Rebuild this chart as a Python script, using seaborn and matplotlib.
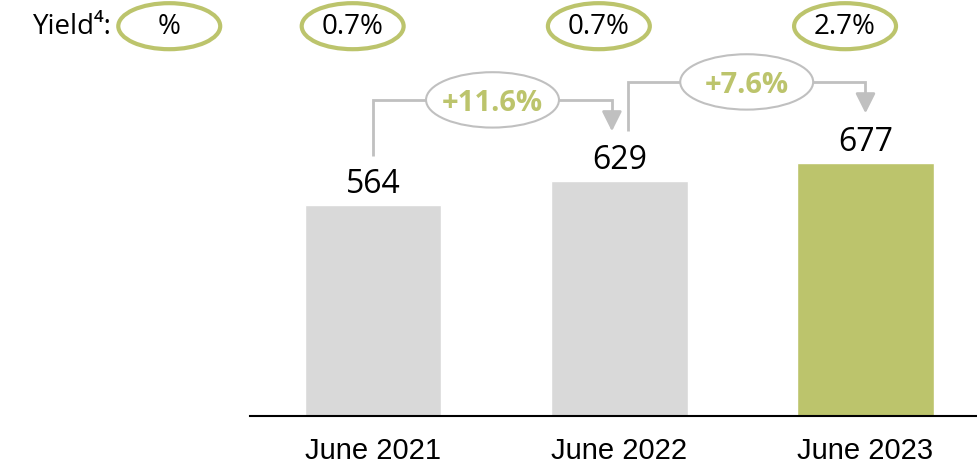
import matplotlib
matplotlib.use("Agg")
import matplotlib.pyplot as plt
from matplotlib import font_manager
from matplotlib.patches import Ellipse
import seaborn as sns
import pandas as pd

# Data
periods = ["June 2021", "June 2022", "June 2023"]
values = [564, 629, 677]
yields = ["0.7%", "0.7%", "2.7%"]
growth = ["+11.6%", "+7.6%"]
bar_colors = ["#d9d9d9", "#d9d9d9", "#bcc46c"]

GREEN = "#bcc46c"
GREY_LINE = "#c0c0c0"
PX = 0.3741  # pixels per data unit on the value axis

sns.set_theme(style="white")
plt.rcParams["font.family"] = ["Open Sans", "DejaVu Sans"]

available = {f.name for f in font_manager.fontManager.ttflist}
tick_family = "Liberation Sans Narrow" if "Liberation Sans Narrow" in available else "Liberation Sans"
tick_size = 25 if tick_family == "Liberation Sans Narrow" else 21

df = pd.DataFrame({"period": periods, "value": values})

fig = plt.figure(figsize=(9.78, 4.63), dpi=100)
ax = fig.add_axes([250 / 978, 47 / 463, 728 / 978, 416 / 463])

sns.barplot(data=df, x="period", y="value", hue="period", palette=bar_colors,
            width=0.555, legend=False, ax=ax, saturation=1)

ax.set_xlim(-0.5, 2.457)
ax.set_ylim(0, 1112)
ax.set_xlabel("")
ax.set_ylabel("")
ax.set_yticks([])
for side in ["top", "right", "left"]:
    ax.spines[side].set_visible(False)
ax.spines["bottom"].set_color("black")
ax.spines["bottom"].set_linewidth(1.5)
ax.tick_params(axis="x", length=0, pad=15)
for lbl in ax.get_xticklabels():
    lbl.set_fontfamily(tick_family)
    lbl.set_fontsize(tick_size)
    lbl.set_color("black")

# Value labels above bars
for i, v in enumerate(values):
    ax.text(i, v + 12 / PX, f"{v}", ha="center", va="baseline", fontsize=23, color="black")

# Growth brackets between consecutive bars
n = len(values)
for i, g in enumerate(growth):
    x0 = i + (0 if i == 0 else 0.035)
    x1 = i + 1 - (0.03 if i + 1 < n - 1 else 0)
    y0 = values[i] + 132
    ytop = values[i + 1] + 216
    ytip = values[i + 1] + 132
    ax.plot([x0, x0, x1, x1], [y0, ytop, ytop, ytip + 30], color=GREY_LINE,
            lw=2, solid_capstyle="butt", solid_joinstyle="miter", zorder=3)
    ax.annotate("", xy=(x1, ytip), xytext=(x1, ytip + 40),
                arrowprops=dict(arrowstyle="-|>,head_length=1.0,head_width=0.5",
                                color=GREY_LINE, lw=2, shrinkA=0, shrinkB=0), zorder=3)
    xm = (x0 + x1) / 2
    ax.add_patch(Ellipse((xm, ytop), width=0.54, height=148, facecolor="white",
                         edgecolor=GREY_LINE, lw=1.5, zorder=4))
    ax.text(xm, ytop - 11 / PX, g, ha="center", va="baseline", fontsize=21,
            fontweight="bold", color=GREEN, zorder=5)

# Yield row along the top
yield_y = 1042
yield_base = yield_y - 8 / PX
ax.text(-1.06, yield_base, "Yield⁴:", ha="right", va="baseline", fontsize=20,
        color="black", clip_on=False)
ax.add_patch(Ellipse((-0.828, yield_y), width=0.414, height=123, facecolor="none",
                     edgecolor=GREEN, lw=3, clip_on=False, zorder=4))
ax.text(-0.828, yield_base, "%", ha="center", va="baseline", fontsize=20,
        color="black", clip_on=False)
for i, y in enumerate(yields):
    xc = i - 0.083
    ax.add_patch(Ellipse((xc, yield_y), width=0.414, height=123, facecolor="none",
                         edgecolor=GREEN, lw=3, clip_on=False, zorder=4))
    ax.text(xc, yield_base, y, ha="center", va="baseline", fontsize=20, color="black")

fig.savefig("out.png", dpi=100)
